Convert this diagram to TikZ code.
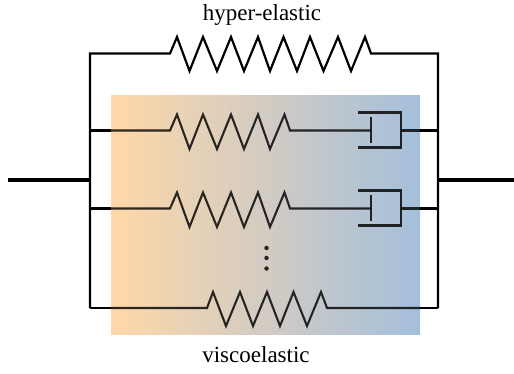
\documentclass[tikz,border=0pt]{standalone}
\usepackage{fontspec}
\setmainfont{Liberation Serif}
\usetikzlibrary{calc}
\definecolor{gradL}{HTML}{FFD8A8}
\definecolor{gradR}{HTML}{A4BFDC}
\tikzset{
  x=1pt,y=-1pt,
  wire/.style={line width=2.2pt,line join=miter,black},
  lead/.style={line width=3.3pt,black},
  inpanel/.style={line width=2.1pt,line join=miter,black,draw opacity=.82},
  label/.style={inner sep=0pt,font=\fontsize{23}{26}\selectfont,anchor=base},
  dot/.style={circle,fill=black,fill opacity=.82,inner sep=0pt,minimum size=4.5pt},
}
\begin{document}
\begin{tikzpicture}
\useasboundingbox (0,0) rectangle (514,374);
% gradient panel
\shade[left color=gradL,right color=gradR] (111,96) rectangle (420,334);
% junctions
\coordinate (inL) at (8,180);
\coordinate (railLm) at (90,180);
\coordinate (railRm) at (438,180);
\coordinate (outR) at (514,180);
\coordinate (railLt) at (90,53.5);
\coordinate (railRt) at (438,53.5);
\coordinate (railLa) at (90,130.5);
\coordinate (railRa) at (438,130.5);
\coordinate (railLb) at (90,208.5);
\coordinate (railRb) at (438,208.5);
\coordinate (railLc) at (90,308);
\coordinate (railRc) at (438,308);
% leads
\draw[lead] (inL) -- (railLm);
\draw[lead] (railRm) -- (outR);
% hyper-elastic branch and rails
\draw[wire] (railLc) -- (railLt) -- (170,53.5)
  -- (177,37) -- (189.5,71) -- (203,37) -- (217,71) -- (231,37) -- (244,71)
  -- (258,37) -- (270,71) -- (283.5,37) -- (297,71) -- (310,37) -- (323.5,71)
  -- (338,37) -- (351,71) -- (365,37) -- (371,53.5) -- (railRt) -- (railRc);
% viscoelastic branches
\foreach \r/\dy in {a/0,b/78}{
  \draw[wire] (railL\r) -- (111,130.5+\dy);
  \draw[inpanel] (111,130.5+\dy) -- (170,130.5+\dy)
    -- (177,114.5+\dy) -- (189.5,149+\dy) -- (203,114.5+\dy) -- (217,149+\dy)
    -- (231,114.5+\dy) -- (244,149+\dy) -- (258,114.5+\dy) -- (270,149+\dy)
    -- (284.5,114.5+\dy) -- (290,130.5+\dy) -- (371,130.5+\dy);
  \draw[inpanel] (371,117+\dy) -- (371,143+\dy);
  \draw[inpanel] (358,112.5+\dy) -- (401,112.5+\dy) -- (401,147.5+\dy) -- (358,147.5+\dy);
  \draw[inpanel] (401,130.5+\dy) -- (420,130.5+\dy);
  \draw[wire] (420,130.5+\dy) -- (railR\r);
}
\draw[wire] (railLc) -- (111,308);
\draw[inpanel] (111,308) -- (207,308)
  -- (213,292) -- (226,326) -- (240,292) -- (253,326) -- (267,292)
  -- (280,326) -- (293.5,292) -- (307,326) -- (321,292) -- (327,308) -- (420,308);
\draw[wire] (420,308) -- (railRc);
\node[dot] (d1) at (266.5,248) {};
\node[dot] (d2) at (266.5,258) {};
\node[dot] (d3) at (266.5,268.5) {};
\node[label] (he) at (262,21) {hyper-elastic};
\node[label] (ve) at (256,362) {viscoelastic};
\end{tikzpicture}
\end{document}
